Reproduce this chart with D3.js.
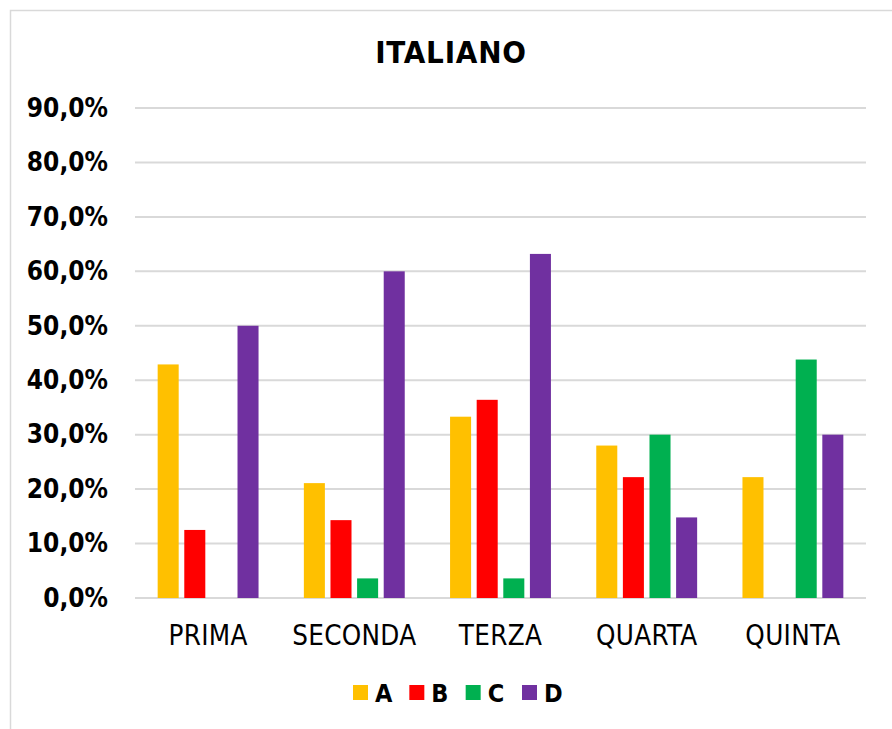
<!DOCTYPE html>
<html>
  <head>
    <meta charset="utf-8">
    <title>ITALIANO</title>
    <script src="https://d3js.org/d3.v7.min.js"></script>
    <style>
      body { margin: 0; background: #fff; }
      svg { display: block; }
      text { font-family: "DejaVu Sans Condensed", "DejaVu Sans", sans-serif; fill: #000; }
    </style>
  </head>
  <body>
    <div id="chart"></div>
    <script>
      // data
      var categories = ["PRIMA", "SECONDA", "TERZA", "QUARTA", "QUINTA"];
      var series = ["A", "B", "C", "D"];
      var valuesA = [0.429, 0.211, 0.333, 0.280, 0.222];
      var valuesB = [0.125, 0.143, 0.364, 0.222, 0.0];
      var valuesC = [0.0, 0.036, 0.036, 0.300, 0.438];
      var valuesD = [0.500, 0.600, 0.632, 0.148, 0.300];
      var yTicks = [0, 0.1, 0.2, 0.3, 0.4, 0.5, 0.6, 0.7, 0.8, 0.9];
      var colors = ["#FFC000", "#FF0000", "#00B050", "#7030A0"];

      var allValues = [valuesA, valuesB, valuesC, valuesD];

      var width = 892, height = 729;
      var plot = { left: 135, right: 866, top: 108, bottom: 598 };

      var svg = d3.select("#chart").append("svg")
        .attr("width", width)
        .attr("height", height);

      svg.append("rect")
        .attr("width", width).attr("height", height)
        .attr("fill", "#fff");

      // chart border (runs off the right/bottom edge like the screenshot)
      svg.append("rect")
        .attr("x", 10.5).attr("y", 10.5)
        .attr("width", width + 10).attr("height", height + 10)
        .attr("fill", "none")
        .attr("stroke", "#d9d9d9")
        .attr("stroke-width", 1.5);

      var x0 = d3.scaleBand()
        .domain(categories)
        .range([plot.left, plot.right]);

      var bw = x0.bandwidth();
      var x1 = d3.scaleBand()
        .domain(series)
        .range([bw * 0.155, bw * 0.845])
        .paddingInner(0.21);

      var y = d3.scaleLinear()
        .domain([0, 0.9])
        .range([plot.bottom, plot.top]);

      var fmt = function(d) { return d3.format(".1f")(d * 100).replace(".", ",") + "%"; };

      // gridlines
      svg.append("g")
        .selectAll("line")
        .data(yTicks)
        .join("line")
        .attr("x1", plot.left).attr("x2", plot.right)
        .attr("y1", d => y(d)).attr("y2", d => y(d))
        .attr("stroke", "#d9d9d9")
        .attr("stroke-width", 2);

      // y axis labels
      var yAxis = svg.append("g")
        .attr("transform", "translate(" + plot.left + ",0)")
        .call(d3.axisLeft(y).tickValues(yTicks).tickFormat(fmt).tickSize(0).tickPadding(27));
      yAxis.select(".domain").remove();
      yAxis.selectAll("text")
        .attr("font-size", 26)
        .attr("font-weight", "bold")
        .attr("font-family", null);

      // x axis labels
      var xAxis = svg.append("g")
        .attr("transform", "translate(0," + plot.bottom + ")")
        .call(d3.axisBottom(x0).tickSize(0).tickPadding(0));
      xAxis.select(".domain").remove();
      xAxis.selectAll("text")
        .attr("dy", null)
        .attr("y", 47)
        .attr("font-size", 27.5)
        .attr("letter-spacing", 0.3)
        .attr("font-family", null);

      // bars
      var groups = svg.append("g")
        .selectAll("g")
        .data(categories)
        .join("g")
        .attr("transform", d => "translate(" + x0(d) + ",0)");

      groups.selectAll("rect")
        .data((c, i) => series.map((s, j) => ({ s: s, v: allValues[j][i], color: colors[j] })))
        .join("rect")
        .attr("x", d => x1(d.s))
        .attr("width", x1.bandwidth())
        .attr("y", d => y(d.v))
        .attr("height", d => y(0) - y(d.v))
        .attr("fill", d => d.color);

      // title
      svg.append("text")
        .attr("x", 451).attr("y", 63)
        .attr("text-anchor", "middle")
        .attr("font-size", 31)
        .attr("letter-spacing", 0.8)
        .attr("font-weight", "bold")
        .text("ITALIANO");

      // legend
      var legendX = d3.scalePoint().domain(series).range([353, 522]);
      var legend = svg.append("g")
        .selectAll("g")
        .data(series)
        .join("g")
        .attr("transform", d => "translate(" + legendX(d) + ",685)");
      legend.append("rect")
        .attr("width", 15).attr("height", 15)
        .attr("fill", (d, i) => colors[i]);
      legend.append("text")
        .attr("x", 22).attr("y", 17)
        .attr("font-size", 25)
        .attr("font-weight", "bold")
        .text(d => d);
    </script>
  </body>
</html>
